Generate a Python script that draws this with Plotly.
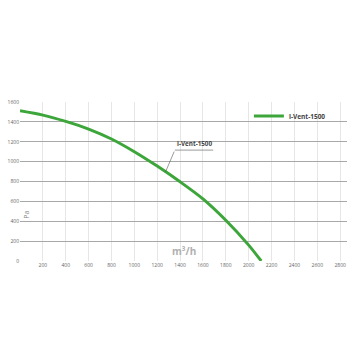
import plotly.graph_objects as go

# Data
flow = [0, 200, 400, 600, 800, 1000, 1200, 1400, 1600, 1800, 2000, 2110]
pressure = [1512, 1468, 1405, 1328, 1228, 1100, 955, 797, 625, 410, 160, 0]
series_name = "i-Vent-1500"
x_ticks = [200, 400, 600, 800, 1000, 1200, 1400, 1600, 1800, 2000, 2200, 2400, 2600, 2800]
y_ticks = [0, 200, 400, 600, 800, 1000, 1200, 1400, 1600]

green = "#3da63a"

fig = go.Figure()
fig.add_trace(go.Scatter(
    x=flow, y=pressure, mode="lines", name=series_name,
    line=dict(color=green, width=3, shape="spline", smoothing=0.8),
))

fig.update_layout(
    width=356, height=356,
    margin=dict(l=20, r=9, t=102, b=95),
    paper_bgcolor="white", plot_bgcolor="white",
    font=dict(family="Open Sans, DejaVu Sans, sans-serif", color="#555"),
    showlegend=True,
    legend=dict(x=0.70, y=0.912, xanchor="left", yanchor="middle",
                bgcolor="rgba(0,0,0,0)",
                font=dict(size=6.5, color="#444", family="Open Sans, sans-serif",
                          weight="bold"),
                itemwidth=30),
    xaxis=dict(range=[0, 2860], tickvals=x_ticks, ticktext=[str(v) for v in x_ticks],
               showgrid=True, gridcolor="#e6e6e6", gridwidth=1,
               zeroline=False, showline=False, ticks="",
               tickfont=dict(size=5, color="#666")),
    yaxis=dict(range=[0, 1600], tickvals=y_ticks, ticktext=[str(v) for v in y_ticks],
               showgrid=True, gridcolor="#a8a8a8", gridwidth=1,
               zeroline=False, showline=False, ticks="",
               tickfont=dict(size=5, color="#666")),
)

fig.add_annotation(x=1354, y=1116, xref="x", yref="y", text="<b>i-Vent-1500</b>",
                   showarrow=False, xanchor="left", yanchor="bottom",
                   font=dict(size=6.3, color="#444"))
fig.add_annotation(x=1273, y=897, ax=1354, ay=1116, axref="x", ayref="y",
                   xref="x", yref="y", text="", showarrow=True,
                   arrowhead=0, arrowwidth=0.6, arrowcolor="#555")
fig.add_shape(type="line", xref="x", yref="y", x0=1354, x1=1690, y0=1116, y1=1116,
              line=dict(color="#555", width=0.6))

fig.add_annotation(x=0.5, y=0.005, xref="paper", yref="paper", text="<b>m³/h</b>",
                   showarrow=False, yanchor="bottom",
                   font=dict(size=10, color="#b0b0b0"))
fig.add_annotation(x=0.0, y=0.25, xref="paper", yref="paper", text="Pa",
                   textangle=-90, showarrow=False, font=dict(size=7, color="#888"))

fig.write_html("out.html")
